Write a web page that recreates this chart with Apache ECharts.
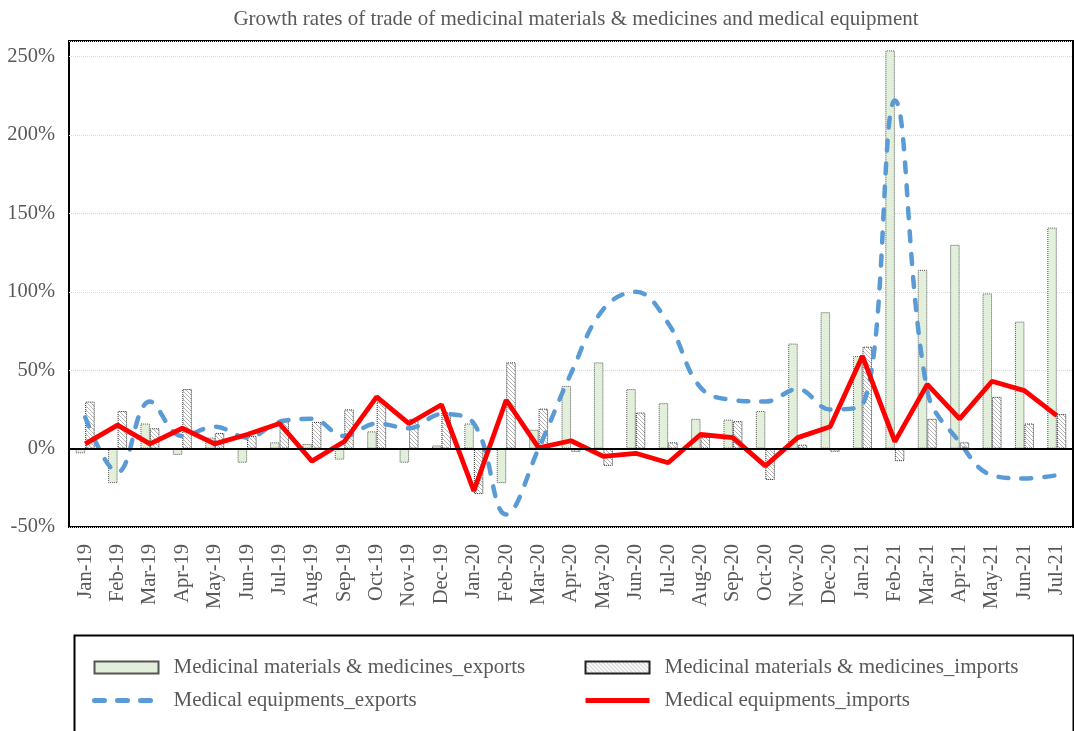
<!DOCTYPE html>
<html>
<head>
<meta charset="utf-8">
<script src="https://cdn.jsdelivr.net/npm/echarts@6/dist/echarts.min.js"></script>
<style>
html,body{margin:0;padding:0;background:#fff;}
#chart{width:1074px;height:731px;}
</style>
</head>
<body>
<div id="chart"></div>
<script>
const categories = ['Jan-19','Feb-19','Mar-19','Apr-19','May-19','Jun-19','Jul-19','Aug-19','Sep-19','Oct-19','Nov-19','Dec-19',
  'Jan-20','Feb-20','Mar-20','Apr-20','May-20','Jun-20','Jul-20','Aug-20','Sep-20','Oct-20','Nov-20','Dec-20',
  'Jan-21','Feb-21','Mar-21','Apr-21','May-21','Jun-21','Jul-21'];
const medExports = [-3, -22, 16, -4, 7, -9, 4, 3, -7, 11, -9, 2, 16, -22, 12, 40, 55, 38, 29, 19, 18.5, 24, 67, 87, 59, 254, 114, 130, 99, 81, 141];
const medImports = [30, 24, 13, 38, 10, 8, 19, 17, 25, 30, 19, 23, -29, 55, 25.5, -2, -11, 23, 4, 7.5, 17.5, -20, 2.5, -2, 65, -8, 19, 4, 33, 16, 22];
const equipExports = [20, -15, 30, 8, 14, 7, 17, 19, 8, 16, 13, 22, 16, -42, 0, 48, 89, 100, 80, 39, 31, 30, 38, 25, 28, 222, 37, 4, -17, -19, -17];
const equipImports = [3, 15, 3, 13, 3, 9, 16, -8, 4.5, 33, 16, 28, -27, 31, 0.5, 5, -5, -3, -9, 9, 7, -11, 7, 14, 59, 4.5, 41, 19, 43, 37, 21];
const yTicks = [-50, 0, 50, 100, 150, 200, 250];

const names = ['Medicinal materials & medicines_exports','Medicinal materials & medicines_imports','Medical equipments_exports','Medical equipments_imports'];
const FONT = "'Liberation Serif','Times New Roman',serif";
const GRAY = '#595959';

// hatch pattern
const pc = document.createElement('canvas');
pc.width = 4; pc.height = 4;
const pctx = pc.getContext('2d');
pctx.fillStyle = '#fff'; pctx.fillRect(0,0,4,4);
pctx.strokeStyle = '#b5b5b5'; pctx.lineWidth = 1;
pctx.beginPath();
pctx.moveTo(0,0); pctx.lineTo(4,4);
pctx.moveTo(-1,3); pctx.lineTo(1,5);
pctx.moveTo(3,-1); pctx.lineTo(5,1);
pctx.stroke();

const legendText = {fontFamily: FONT, fontSize: 21, color: GRAY, lineHeight: 20, padding: [0, 0, 0, 10]};

const chart = echarts.init(document.getElementById('chart'), null, {renderer:'canvas'});
chart.setOption({
  animation: false,
  backgroundColor: '#fff',
  title: {
    text: 'Growth rates of trade of medicinal materials & medicines and medical equipment',
    left: 571, textAlign: 'center', top: 4,
    textStyle: {fontFamily: FONT, fontSize: 21, fontWeight: 'normal', color: GRAY}
  },
  grid: {left: 69, right: 1, top: 41, bottom: 731-527, show: true, borderColor: '#000', borderWidth: 2, backgroundColor: 'transparent'},
  legend: [
    {left: 87, top: 652, orient: 'vertical', itemGap: 12, itemWidth: 64, itemHeight: 12,
     data: [{name: names[0], icon: 'rect'}, {name: names[2], itemStyle: {opacity: 0}, lineStyle: {width: 5, type: [10, 13], cap: 'round', color: '#5B9BD5'}}],
     textStyle: legendText},
    {left: 578, top: 652, orient: 'vertical', itemGap: 12, itemWidth: 64, itemHeight: 12,
     data: [{name: names[1], icon: 'rect'}, {name: names[3], itemStyle: {opacity: 0}, lineStyle: {width: 5, color: '#FF0000'}}],
     textStyle: legendText}
  ],
  graphic: [{
    type: 'rect', left: 72, top: 633,
    shape: {width: 999, height: 120},
    style: {fill: 'none', stroke: '#000', lineWidth: 2}, silent: true
  }],
  xAxis: {
    type: 'category', data: categories,
    axisLine: {onZero: false, show: false},
    axisTick: {show: false},
    axisLabel: {rotate: 90, interval: 0, margin: 17, fontFamily: FONT, fontSize: 20.5, color: GRAY},
    splitLine: {show: false}
  },
  yAxis: {
    type: 'value', min: -50, max: 260, interval: 50,
    axisLine: {show: false}, axisTick: {show: false},
    axisLabel: {
      fontFamily: FONT, fontSize: 20.5, color: GRAY, margin: 14,
      formatter: v => yTicks.includes(v) ? v + '%' : ''
    },
    splitLine: {lineStyle: {color: '#d9d9d9', type: 'dotted', width: 1}}
  },
  series: [
    {name: names[0], type: 'bar', data: medExports, barWidth: 9.5, barGap: '0%',
     itemStyle: {color: '#E2EFDA', borderColor: '#555', borderWidth: 1, borderType: 'dotted'},
     markLine: {silent: true, symbol: 'none', label: {show: false}, data: [{yAxis: 0}],
       lineStyle: {color: '#000', width: 2, type: 'solid'}}},
    {name: names[1], type: 'bar', data: medImports, barWidth: 9.5, barGap: '0%',
     itemStyle: {color: {image: pc, repeat: 'repeat'}, borderColor: '#222', borderWidth: 1, borderType: 'dotted'}},
    {name: names[2], type: 'line', data: equipExports, smooth: 0.4, symbol: 'none', z: 3,
     lineStyle: {color: '#5B9BD5', width: 4.5, type: [10, 13], cap: 'round'},
     itemStyle: {color: '#5B9BD5'}},
    {name: names[3], type: 'line', data: equipImports, symbol: 'none', z: 4,
     lineStyle: {color: '#FF0000', width: 4.8},
     itemStyle: {color: '#FF0000'}}
  ]
});
</script>
</body>
</html>
